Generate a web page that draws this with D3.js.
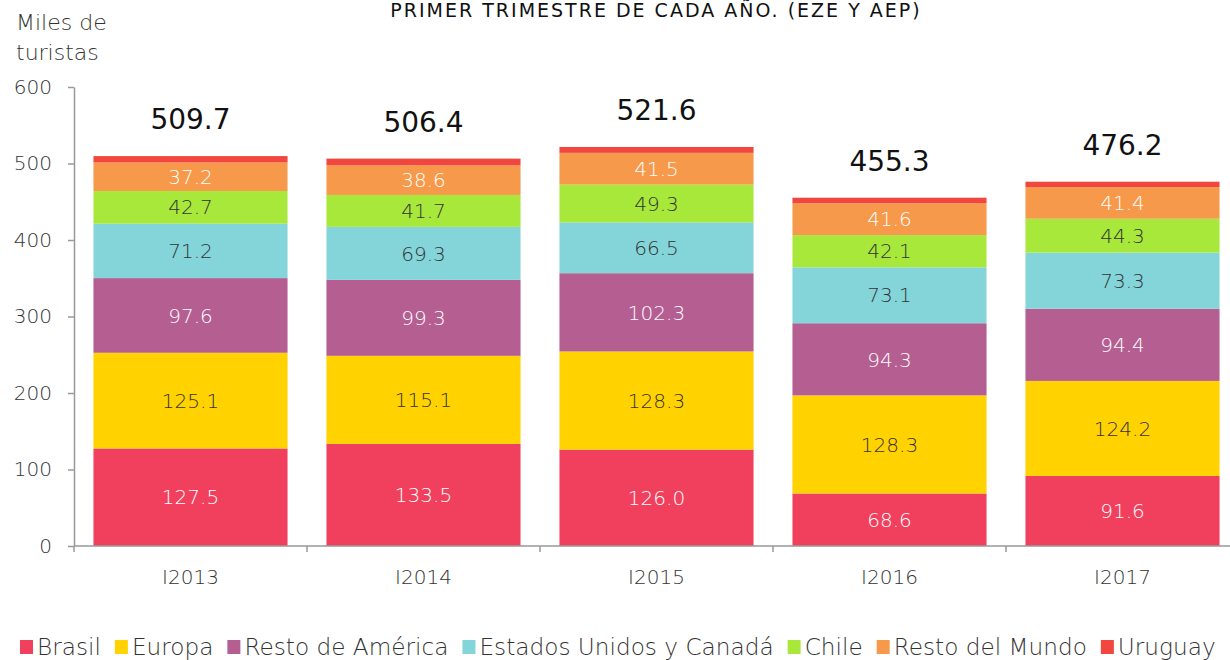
<!DOCTYPE html>
<html>
<head>
<meta charset="utf-8">
<script src="https://cdn.jsdelivr.net/npm/d3@7"></script>
<style>
    body { margin: 0; background: #fff; }
    svg { font-family: "DejaVu Sans", sans-serif; font-weight: 200; }
</style>
</head>
<body>
<svg id="chart" width="1230" height="660"></svg>
<script>
const years = ['I2013', 'I2014', 'I2015', 'I2016', 'I2017'];
const seriesNames = ['Brasil', 'Europa', 'Resto de América', 'Estados Unidos y Canadá', 'Chile', 'Resto del Mundo', 'Uruguay'];
const brasil = [127.5, 133.5, 126.0, 68.6, 91.6];
const europa = [125.1, 115.1, 128.3, 128.3, 124.2];
const restoAmerica = [97.6, 99.3, 102.3, 94.3, 94.4];
const eeuuCanada = [71.2, 69.3, 66.5, 73.1, 73.3];
const chile = [42.7, 41.7, 49.3, 42.1, 44.3];
const restoMundo = [37.2, 38.6, 41.5, 41.6, 41.4];
const uruguay = [8.4, 8.9, 7.7, 7.3, 7.0];
const totals = [509.7, 506.4, 521.6, 455.3, 476.2];
const yTicks = [0, 100, 200, 300, 400, 500, 600];

const colors = ['#f0405e', '#ffd200', '#b55e91', '#84d5d9', '#a7e83a', '#f7994a', '#f2473f'];
const labelColors = ['#fff', '#333', '#fff', '#333', '#333', '#fff', null];

const values = [brasil, europa, restoAmerica, eeuuCanada, chile, restoMundo, uruguay];
const rows = years.map((year, i) => {
    const row = { year };
    seriesNames.forEach((name, s) => { row[name] = values[s][i]; });
    return row;
});

const svg = d3.select('#chart');

const x = d3.scaleBand()
    .domain(years)
    .range([74, 1239])
    .paddingInner(0.167)
    .paddingOuter(0.0835);

const y = d3.scaleLinear()
    .domain([0, 600])
    .range([546, 87]);

const stacked = d3.stack().keys(seriesNames)(rows);

// bars
const layers = svg.selectAll('g.layer')
    .data(stacked)
    .enter()
    .append('g')
    .attr('class', 'layer')
    .attr('fill', (d, i) => colors[i]);

layers.selectAll('rect')
    .data(d => d)
    .enter()
    .append('rect')
    .attr('x', d => x(d.data.year))
    .attr('width', x.bandwidth())
    .attr('y', d => y(d[1]))
    .attr('height', d => y(d[0]) - y(d[1]));

// segment labels
layers.each(function(layer, i) {
    if (!labelColors[i]) return;
    d3.select(this).selectAll('text')
        .data(layer)
        .enter()
        .append('text')
        .attr('x', d => x(d.data.year) + x.bandwidth() / 2)
        .attr('y', d => (y(d[0]) + y(d[1])) / 2)
        .attr('dy', '0.36em')
        .attr('text-anchor', 'middle')
        .attr('font-size', 20)
        .attr('fill', labelColors[i])
        .text(d => (d[1] - d[0]).toFixed(1));
});

// totals
svg.selectAll('text.total')
    .data(years)
    .enter()
    .append('text')
    .attr('class', 'total')
    .attr('x', d => x(d) + x.bandwidth() / 2)
    .attr('y', (d, i) => y(totals[i]) - 27)
    .attr('text-anchor', 'middle')
    .attr('font-size', 28)
    .attr('font-weight', 400)
    .attr('fill', '#111')
    .text((d, i) => totals[i].toFixed(1));

// y axis
const yAxis = svg.append('g')
    .attr('transform', 'translate(74,0)')
    .call(d3.axisLeft(y).tickValues(yTicks).tickSize(6).tickPadding(16).tickSizeOuter(0));
yAxis.select('.domain').attr('stroke', '#999').attr('stroke-width', 1.5);
yAxis.selectAll('line').attr('stroke', '#999').attr('stroke-width', 1.5);
yAxis.selectAll('text')
    .attr('font-size', 20)
    .attr('fill', '#333')
    .attr('font-family', '"DejaVu Sans", sans-serif');

// x axis
const xAxisG = svg.append('g').attr('transform', 'translate(0,546)');
xAxisG.append('line')
    .attr('x1', 74).attr('x2', 1239)
    .attr('stroke', '#999').attr('stroke-width', 1.5);
const step = x.step();
xAxisG.selectAll('line.tick')
    .data(years)
    .enter()
    .append('line')
    .attr('class', 'tick')
    .attr('x1', d => x(d) - step * 0.0835 + step)
    .attr('x2', d => x(d) - step * 0.0835 + step)
    .attr('y1', 0).attr('y2', 6)
    .attr('stroke', '#999').attr('stroke-width', 1.5);
xAxisG.append('line')
    .attr('x1', 74).attr('x2', 74).attr('y1', 0).attr('y2', 6)
    .attr('stroke', '#999').attr('stroke-width', 1.5);
xAxisG.selectAll('text')
    .data(years)
    .enter()
    .append('text')
    .attr('x', d => x(d) + x.bandwidth() / 2)
    .attr('y', 38)
    .attr('text-anchor', 'middle')
    .attr('font-size', 20)
    .attr('fill', '#333')
    .text(d => d);

// axis title
svg.append('text')
    .attr('x', 16).attr('y', 30)
    .attr('font-size', 22).attr('fill', '#333')
    .text('Miles de');
svg.append('text')
    .attr('x', 16).attr('y', 60)
    .attr('font-size', 22).attr('fill', '#333')
    .text('turistas');

// chart title (cut at the top in the source)
svg.append('text')
    .attr('x', 656).attr('y', 17)
    .attr('text-anchor', 'middle')
    .attr('font-size', 19)
    .attr('font-weight', 400)
    .attr('letter-spacing', 2)
    .attr('fill', '#111')
    .text('PRIMER TRIMESTRE DE CADA AÑO. (EZE Y AEP)');

// legend
const legend = svg.append('g').attr('transform', 'translate(20,647)');
let lx = 0;
seriesNames.forEach((name, i) => {
    const item = legend.append('g').attr('transform', `translate(${lx},0)`);
    item.append('rect')
        .attr('x', 0).attr('y', -7)
        .attr('width', 13).attr('height', 14)
        .attr('fill', colors[i]);
    const t = item.append('text')
        .attr('x', 17)
        .attr('dy', '0.36em')
        .attr('font-size', 23.2)
        .attr('fill', '#333')
        .text(name);
    lx += 17 + t.node().getComputedTextLength() + 14;
});
</script>
</body>
</html>
